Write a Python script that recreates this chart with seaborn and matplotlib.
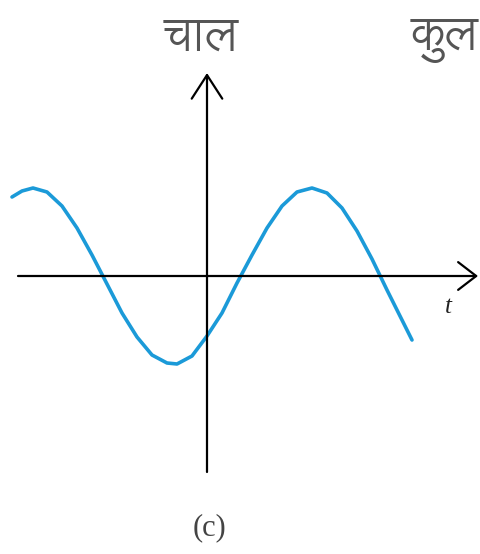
import matplotlib
matplotlib.use("Agg")
import matplotlib.pyplot as plt
import seaborn as sns
import pandas as pd

# curve (t along the time axis, v = speed, arbitrary units)
t_vals = [-1.95, -1.85, -1.74, -1.60, -1.45, -1.30, -1.15, -1.00, -0.85, -0.70,
          -0.55, -0.40, -0.30, -0.15, 0.00, 0.15, 0.30, 0.45, 0.60, 0.75,
          0.90, 1.05, 1.20, 1.35, 1.50, 1.65, 1.80, 1.95, 2.05]
v_vals = [0.79, 0.85, 0.88, 0.84, 0.70, 0.48, 0.21, -0.08, -0.37, -0.61,
          -0.79, -0.87, -0.88, -0.80, -0.60, -0.37, -0.07, 0.21, 0.48, 0.70,
          0.84, 0.88, 0.83, 0.68, 0.45, 0.17, -0.14, -0.44, -0.64]

y_label = "चाल"
right_label = "कुल"
x_label = "t"
panel_label = "(c)"

df = pd.DataFrame({"t": t_vals, "v": v_vals})

sns.set_style("white")
plt.rcParams["font.family"] = ["Lohit Devanagari", "Tiro Devanagari Hindi", "DejaVu Sans"]

fig = plt.figure(figsize=(4.81, 5.54), dpi=100)
ax = fig.add_axes([0, 0, 1, 1])

sns.lineplot(data=df, x="t", y="v", color="#1b9ad8", linewidth=2.6, ax=ax, sort=False)

# axes with open arrow heads
ax.annotate("", xy=(2.71, 0), xytext=(-1.89, 0),
            arrowprops=dict(arrowstyle="->,head_length=0.65,head_width=0.5",
                            lw=1.6, color="black", mutation_scale=20, shrinkA=0, shrinkB=0))
ax.annotate("", xy=(0, 2.03), xytext=(0, -1.96),
            arrowprops=dict(arrowstyle="->,head_length=0.85,head_width=0.55",
                            lw=1.6, color="black", mutation_scale=20, shrinkA=0, shrinkB=0))

ax.text(-0.06, 2.38, y_label, fontsize=34, color="#555555", ha="center", va="center")
ax.text(2.04, 2.36, right_label, fontsize=34, color="#555555", ha="left", va="center")
ax.text(2.41, -0.31, x_label, fontsize=18, style="italic", family="Liberation Serif",
        color="#222222", ha="center", va="center")
ax.text(0.03, -2.52, panel_label, fontsize=22, family="Liberation Serif",
        color="#444444", ha="center", va="center")

ax.set_xlim(-2.07, 2.74)
ax.set_ylim(-2.78, 2.76)
ax.axis("off")

fig.savefig("out.png", dpi=100)
